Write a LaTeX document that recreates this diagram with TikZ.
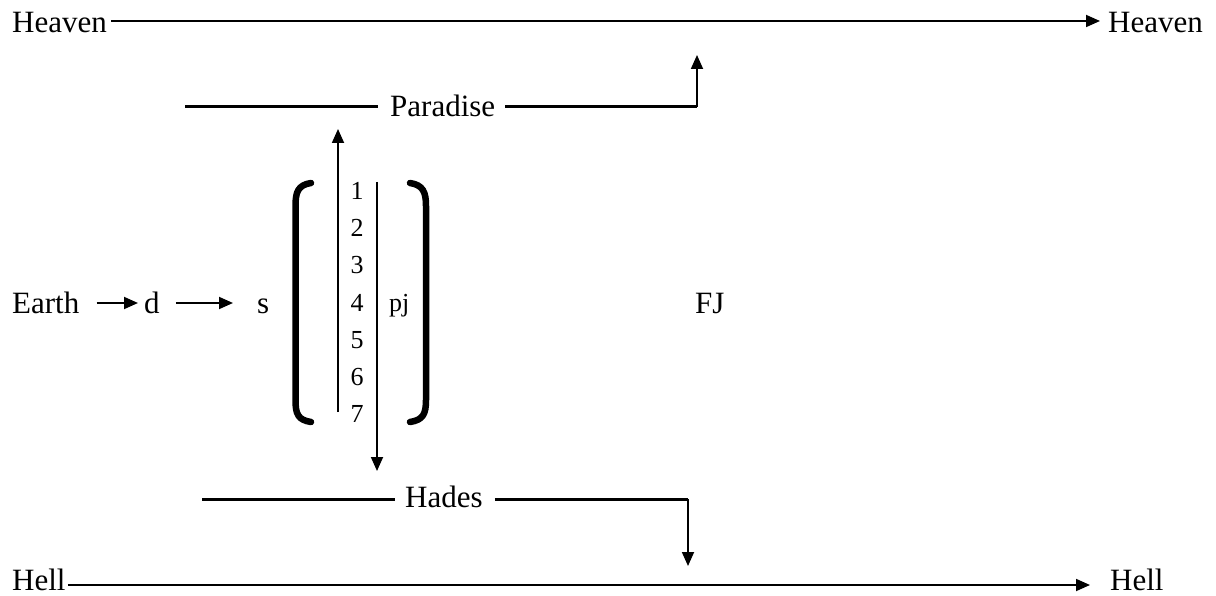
\documentclass[tikz,border=0pt]{standalone}
\usepackage{fontspec}
\setmainfont{Liberation Serif}
\usetikzlibrary{arrows.meta}
\begin{document}
\begin{tikzpicture}[x=1pt,y=-1pt,
  lbl/.style={inner sep=0pt,anchor=base west,font=\fontsize{31}{36}\selectfont},
  num/.style={inner sep=0pt,anchor=base,font=\fontsize{26}{30}\selectfont},
  thinln/.style={line width=1.8pt},
  thickln/.style={line width=3pt},
  arr/.style={-{Triangle[length=14pt,width=12pt]}},
  brk/.style={line width=6.5pt,line cap=round}]
\useasboundingbox (0,0) rectangle (1216,596);
% labels
\node[lbl] (heavenL) at (12,33) {Heaven};
\node[lbl] (heavenR) at (1108,33) {Heaven};
\node[lbl] (hellL) at (12,590) {Hell};
\node[lbl] (hellR) at (1110,590) {Hell};
\node[lbl] (paradise) at (390,117) {Paradise};
\node[lbl] (hades) at (405,507) {Hades};
\node[lbl] (earth) at (12,313) {Earth};
\node[lbl] (d) at (144,313) {d};
\node[lbl] (s) at (257,313) {s};
\node[lbl] (fj) at (695,313) {FJ};
\node[num,anchor=base west] (pj) at (389,311) {pj};
\foreach \i/\yy in {1/200,2/237,3/274,4/311,5/348,6/385,7/422}
  \node[num] (n\i) at (357,\yy) {\i};
% coordinates
\coordinate (topy) at (0,21);
\coordinate (boty) at (0,585);
\coordinate (pary) at (0,107);
\coordinate (hady) at (0,499);
\coordinate (pl) at (185,107);
\coordinate (pr) at (697,107);
\coordinate (ptop) at (697,55);
\coordinate (hl) at (202,499);
\coordinate (hr) at (688,499);
\coordinate (hbot) at (688,566);
\coordinate (upb) at (338,412);
\coordinate (upt) at (338,129);
\coordinate (dnt) at (377,182);
\coordinate (dnb) at (377,471);
% top and bottom lines
\draw[thinln,arr] ([xshift=4pt]heavenL.east |- topy) -- ([xshift=-8pt]heavenR.west |- topy);
\draw[thinln,arr] ([xshift=2pt]hellL.east |- boty) -- ([xshift=-20pt]hellR.west |- boty);
% paradise
\draw[thickln] (pl) -- ([xshift=-12pt]paradise.west |- pary);
\draw[thickln] ([xshift=10pt]paradise.east |- pary) -- (pr);
\draw[thinln,arr] (pr) -- (ptop);
% hades
\draw[thickln] (hl) -- ([xshift=-10pt]hades.west |- hady);
\draw[thickln] ([xshift=12pt]hades.east |- hady) -- (hr);
\draw[thinln,arr] (hr) -- (hbot);
% earth arrows
\draw[thinln,arr] ([xshift=17pt,yshift=10pt]earth.base east) -- ([xshift=-6pt,yshift=10pt]d.base west);
\draw[thinln,arr] ([xshift=16pt,yshift=10pt]d.base east) -- ([xshift=-24pt,yshift=10pt]s.base west);
% vertical arrows
\draw[thinln,arr] (upb) -- (upt);
\draw[thinln,arr] (dnt) -- (dnb);
% brackets
\draw[brk] (311,183) .. controls (298,185) and (295.5,192) .. (295.5,206) -- (295.5,400) .. controls (295.5,414) and (298,420) .. (311,422);
\draw[brk] (410,183) .. controls (423,185) and (426,192) .. (426,206) -- (426,400) .. controls (426,414) and (423,420) .. (410,422);
\end{tikzpicture}
\end{document}
